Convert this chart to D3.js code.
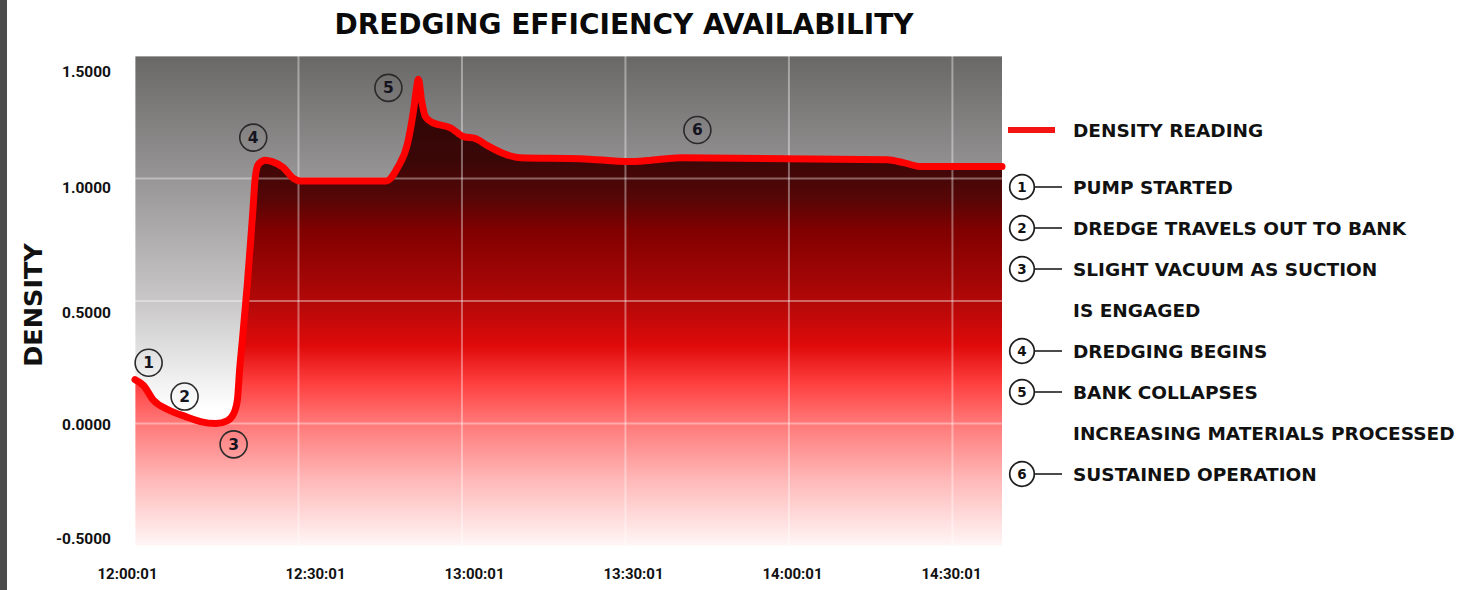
<!DOCTYPE html>
<html>
<head>
<meta charset="utf-8">
<script src="https://cdn.jsdelivr.net/npm/d3@7"></script>
<style>
    body { margin: 0; background: #fff; }
    svg { display: block; }
</style>
</head>
<body>
<div id="chart"></div>
<script>
// Density readings, minutes after 12:00:01
const readingMinutes = [0, 1.56, 3.4, 6.0, 9.3, 12.0, 14.8, 17.0, 18.1, 18.8, 19.2, 19.7, 20.6, 21.6, 22.1, 22.7,
    23.9, 25.2, 27.2, 29.1, 30.4, 46.1, 48.2, 50.0, 51.1, 51.65, 52.0, 52.6, 53.3, 54.6, 57.9, 60.3, 62.5,
    64.7, 67.6, 70.7, 81.7, 90.9, 94.0, 100.1, 138.1, 141.0, 144.1, 159.1];
const readingDensity = [0.179, 0.155, 0.095, 0.057, 0.028, 0.008, 0.0, 0.012, 0.04, 0.098, 0.22, 0.34, 0.565, 0.858, 1.01, 1.06,
    1.075, 1.069, 1.045, 1.0, 0.99, 0.99, 1.045, 1.142, 1.276, 1.366, 1.405, 1.317, 1.252, 1.228, 1.207, 1.171, 1.163,
    1.134, 1.102, 1.085, 1.081, 1.069, 1.073, 1.085, 1.077, 1.065, 1.049, 1.049];

// Numbered annotations on the chart
const markerNumbers = [1, 2, 3, 4, 5, 6];
const markerMinutes = [2.5, 9.1, 18.1, 21.7, 46.5, 103.2];
const markerDensity = [0.248, 0.11, -0.085, 1.167, 1.37, 1.198];

const xTickLabels = ['12:00:01', '12:30:01', '13:00:01', '13:30:01', '14:00:01', '14:30:01'];
const yTicks = [-0.5, 0, 0.5, 1, 1.5];

const legendNumbers = [1, 2, 3, null, 4, 5, null, 6];
const legendTexts = ['PUMP STARTED', 'DREDGE TRAVELS OUT TO BANK', 'SLIGHT VACUUM AS SUCTION', 'IS ENGAGED',
    'DREDGING BEGINS', 'BANK COLLAPSES', 'INCREASING MATERIALS PROCESSED', 'SUSTAINED OPERATION'];

const width = 1467;
const height = 590;
const plot = { left: 135, right: 1002, top: 56, bottom: 546 };
const boldFont = '"DejaVu Sans", sans-serif';
const tickFont = 'Roboto, "DejaVu Sans", sans-serif';

const start = new Date(2024, 0, 1, 12, 0, 1);
const toTime = m => new Date(start.getTime() + m * 60000);
const parseTick = s => {
    const [h, m, sec] = s.split(':').map(Number);
    return new Date(2024, 0, 1, h, m, sec);
};
const tickDates = xTickLabels.map(parseTick);

const readings = readingMinutes.map((m, i) => ({ t: toTime(m), v: readingDensity[i] }));
const markers = markerNumbers.map((n, i) => ({ n, t: toTime(markerMinutes[i]), v: markerDensity[i] }));

const svg = d3.select('#chart')
    .append('svg')
    .attr('width', width)
    .attr('height', height);

const x = d3.scaleTime()
    .domain([start, toTime(159.1)])
    .range([plot.left, plot.right]);

const y = d3.scaleLinear()
    .domain([-0.5, 1.5])
    .range([plot.bottom, plot.top]);

// tick labels in the original sit slightly off the grid
const xLabel = d3.scaleTime()
    .domain([tickDates[0], tickDates[1], tickDates[5]])
    .range([127, 315, 951]);
const yLabel = d3.scaleLinear()
    .domain(yTicks)
    .range([539, 425, 313, 188, 72]);

const defs = svg.append('defs');

const bgGrad = defs.append('linearGradient')
    .attr('id', 'bgGrad')
    .attr('gradientUnits', 'userSpaceOnUse')
    .attr('x1', 0).attr('x2', 0)
    .attr('y1', plot.top).attr('y2', plot.bottom);
[[0, '#6a6767'], [0.25, '#979595'], [0.5, '#c9c7c7'], [0.72, '#ffffff'], [1, '#ffffff']]
    .forEach(([o, c]) => bgGrad.append('stop').attr('offset', o).attr('stop-color', c));

const areaGrad = defs.append('linearGradient')
    .attr('id', 'areaGrad')
    .attr('gradientUnits', 'userSpaceOnUse')
    .attr('x1', 0).attr('x2', 0)
    .attr('y1', plot.top).attr('y2', plot.bottom);
[[0, '#2a0505'], [0.21, '#3a0707'], [0.29, '#560606'], [0.355, '#800000'], [0.5, '#b20808'],
 [0.59, '#df0a0a'], [0.67, '#ff4040'], [0.74, '#ff7272'], [0.865, '#ffb8b8'], [1, '#fff6f6']]
    .forEach(([o, c]) => areaGrad.append('stop').attr('offset', o).attr('stop-color', c));

// page border strip on the left
svg.append('rect')
    .attr('x', 0).attr('y', 0)
    .attr('width', 7).attr('height', height)
    .attr('fill', '#4b4b4b');

svg.append('rect')
    .attr('x', plot.left).attr('y', plot.top)
    .attr('width', plot.right - plot.left)
    .attr('height', plot.bottom - plot.top)
    .attr('fill', 'url(#bgGrad)');

const curve = d3.curveMonotoneX;

svg.append('path')
    .datum(readings)
    .attr('fill', 'url(#areaGrad)')
    .attr('d', d3.area()
        .x(d => x(d.t))
        .y0(plot.bottom)
        .y1(d => y(d.v))
        .curve(curve));

// Grid
const grid = svg.append('g')
    .attr('stroke', '#fff')
    .attr('stroke-opacity', 0.38)
    .attr('stroke-width', 2);

grid.selectAll('.vgrid')
    .data(tickDates)
    .join('line')
    .attr('class', 'vgrid')
    .attr('x1', d => x(d)).attr('x2', d => x(d))
    .attr('y1', plot.top).attr('y2', plot.bottom);

grid.selectAll('.hgrid')
    .data(yTicks)
    .join('line')
    .attr('class', 'hgrid')
    .attr('x1', plot.left).attr('x2', plot.right)
    .attr('y1', d => y(d)).attr('y2', d => y(d));

svg.append('path')
    .datum(readings)
    .attr('fill', 'none')
    .attr('stroke', '#ff0000')
    .attr('stroke-width', 7)
    .attr('stroke-linejoin', 'round')
    .attr('stroke-linecap', 'round')
    .attr('d', d3.line()
        .x(d => x(d.t))
        .y(d => y(d.v))
        .curve(curve));

// Numbered markers on the chart
const marker = svg.append('g')
    .selectAll('g')
    .data(markers)
    .join('g')
    .attr('transform', d => `translate(${x(d.t)},${y(d.v)})`);

marker.append('circle')
    .attr('r', 13.5)
    .attr('fill', 'none')
    .attr('stroke', '#2a2a2a')
    .attr('stroke-width', 1.6);

marker.append('text')
    .attr('text-anchor', 'middle')
    .attr('y', 5.5)
    .style('font-family', boldFont)
    .style('font-weight', 'bold')
    .style('font-size', '15.5px')
    .style('fill', '#15151f')
    .text(d => d.n);

// Axes
const yAxis = svg.append('g')
    .attr('transform', 'translate(111,0)')
    .call(d3.axisLeft(yLabel)
        .tickValues(yTicks)
        .tickSize(0)
        .tickPadding(0)
        .tickFormat(d => d.toFixed(4)));
yAxis.select('.domain').remove();
yAxis.selectAll('text')
    .style('font-family', tickFont)
    .style('font-weight', 'bold')
    .style('font-size', '15.5px')
    .style('fill', '#111');

const xAxis = svg.append('g')
    .attr('transform', 'translate(0,568)')
    .call(d3.axisBottom(xLabel)
        .tickValues(tickDates)
        .tickSize(0)
        .tickPadding(0)
        .tickFormat(d3.timeFormat('%H:%M:%S')));
xAxis.select('.domain').remove();
xAxis.selectAll('text')
    .style('font-family', tickFont)
    .style('font-weight', 'bold')
    .style('font-size', '15px')
    .style('fill', '#111');

svg.append('text')
    .attr('transform', 'translate(42,305) rotate(-90)')
    .attr('text-anchor', 'middle')
    .style('font-family', boldFont)
    .style('font-weight', 'bold')
    .style('font-size', '25.5px')
    .style('fill', '#111')
    .text('DENSITY');

svg.append('text')
    .attr('x', 624)
    .attr('y', 34)
    .attr('text-anchor', 'middle')
    .style('font-family', boldFont)
    .style('font-weight', 'bold')
    .style('font-size', '28px')
    .style('fill', '#0a0a0a')
    .text('DREDGING EFFICIENCY AVAILABILITY');

// Legend
const legend = svg.append('g');
const legendFont = 18.5;

legend.append('line')
    .attr('x1', 1008).attr('x2', 1055)
    .attr('y1', 130).attr('y2', 130)
    .attr('stroke', '#f41414')
    .attr('stroke-width', 6);

legend.append('text')
    .attr('x', 1073)
    .attr('y', 130 + legendFont * 0.36)
    .style('font-family', boldFont)
    .style('font-weight', 'bold')
    .style('font-size', legendFont + 'px')
    .style('fill', '#111')
    .text('DENSITY READING');

const row = legend.selectAll('.row')
    .data(legendTexts.map((text, i) => ({ text, n: legendNumbers[i], cy: 187 + i * 41 })))
    .join('g')
    .attr('class', 'row')
    .attr('transform', d => `translate(0,${d.cy})`);

row.append('text')
    .attr('x', 1073)
    .attr('y', legendFont * 0.36)
    .style('font-family', boldFont)
    .style('font-weight', 'bold')
    .style('font-size', legendFont + 'px')
    .style('fill', '#111')
    .text(d => d.text);

const numbered = row.filter(d => d.n !== null);

numbered.append('circle')
    .attr('cx', 1022)
    .attr('r', 12.3)
    .attr('fill', '#fff')
    .attr('stroke', '#1e1e1e')
    .attr('stroke-width', 1.7);

numbered.append('line')
    .attr('x1', 1034.5).attr('x2', 1062)
    .attr('stroke', '#1e1e1e')
    .attr('stroke-width', 1.6);

numbered.append('text')
    .attr('x', 1022)
    .attr('y', 5)
    .attr('text-anchor', 'middle')
    .style('font-family', boldFont)
    .style('font-weight', 'bold')
    .style('font-size', '13.5px')
    .style('fill', '#111')
    .text(d => d.n);
</script>
</body>
</html>
